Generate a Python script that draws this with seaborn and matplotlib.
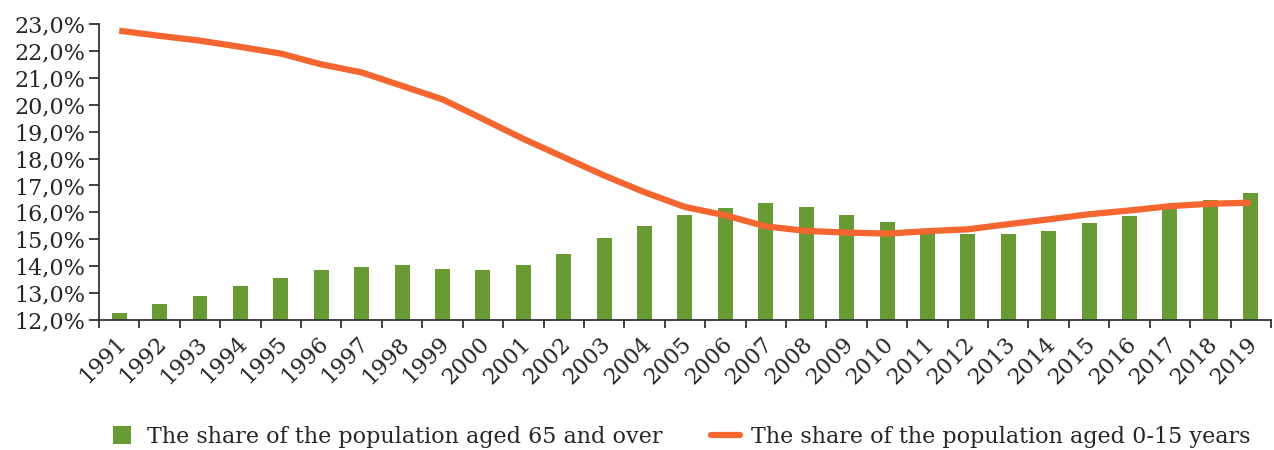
import numpy as np
import pandas as pd
import matplotlib
matplotlib.use('Agg')
import matplotlib.pyplot as plt
import matplotlib.transforms as mtransforms
from matplotlib.lines import Line2D
from matplotlib.ticker import FuncFormatter, FixedLocator
import seaborn as sns

years = [str(y) for y in range(1991, 2020)]
share_65_over = [12.25, 12.6, 12.9, 13.27, 13.55, 13.85, 13.97, 14.04, 13.91, 13.86,
                 14.04, 14.44, 15.03, 15.49, 15.91, 16.17, 16.33, 16.2, 15.91, 15.64,
                 15.27, 15.21, 15.21, 15.3, 15.59, 15.86, 16.26, 16.47, 16.73]
share_0_15 = [22.75, 22.56, 22.38, 22.15, 21.9, 21.5, 21.2, 20.7, 20.2, 19.47,
              18.73, 18.05, 17.37, 16.75, 16.2, 15.89, 15.48, 15.31, 15.25, 15.21,
              15.3, 15.37, 15.56, 15.74, 15.93, 16.07, 16.23, 16.32, 16.36]

label_old = 'The share of the population aged 65 and over'
label_young = 'The share of the population aged 0-15 years'
green = '#699B35'
orange = '#F4652F'

df = pd.DataFrame({'year': years, 'old': share_65_over, 'young': share_0_15})

sns.set_style('white')
plt.rcParams['font.family'] = ['DejaVu Serif']

fig = plt.figure(figsize=(12.74, 4.5), dpi=100)
ax = fig.add_axes([0.0777, 0.2889, 0.9199, 0.6578])

sns.barplot(data=df, x='year', y='old', color=green, saturation=1,
            width=0.37, linewidth=0, ax=ax)
sns.lineplot(data=df, x='year', y='young', color=orange, linewidth=4.5,
             sort=False, ax=ax, legend=False)
for l in ax.lines:
    l.set_solid_joinstyle('round')
    l.set_solid_capstyle('butt')

ax.set_ylim(12, 23)
ax.set_xlim(-0.5, len(years) - 0.5)
ax.set_yticks(np.arange(12, 23.5, 1))
ax.yaxis.set_major_formatter(FuncFormatter(lambda v, p: f'{v:.1f}%'.replace('.', ',')))
ax.set_xlabel('')
ax.set_ylabel('')

# tick marks between the categories, labels under the bars
ax.xaxis.set_minor_locator(FixedLocator(np.arange(len(years) + 1) - 0.5))
ax.tick_params(axis='x', which='major', bottom=True, length=0, labelsize=16, pad=9)
ax.tick_params(axis='x', which='minor', bottom=True, length=6, width=1.3,
               color='#333333', direction='out')
ax.tick_params(axis='y', left=True, length=7, width=1.3, color='#333333',
               direction='out', labelsize=16, pad=3)
shift = mtransforms.ScaledTranslation(-3 / 72, 0, fig.dpi_scale_trans)
for lab in ax.get_xticklabels():
    lab.set_rotation(45)
    lab.set_ha('right')
    lab.set_rotation_mode('anchor')
    lab.set_transform(lab.get_transform() + shift)

sns.despine(ax=ax)
for s in ['left', 'bottom']:
    ax.spines[s].set_color('#333333')
    ax.spines[s].set_linewidth(1.3)

handles = [Line2D([], [], linestyle='none', marker='s', markersize=13,
                  markerfacecolor=green, markeredgewidth=0),
           Line2D([], [], color=orange, linewidth=4.5)]
fig.legend(handles, [label_old, label_young], loc='center',
           bbox_to_anchor=(0.533, 0.03), ncol=2, frameon=False, fontsize=16,
           handlelength=1.3, columnspacing=2.2, handletextpad=0.5)

fig.savefig('out.png', dpi=100)
